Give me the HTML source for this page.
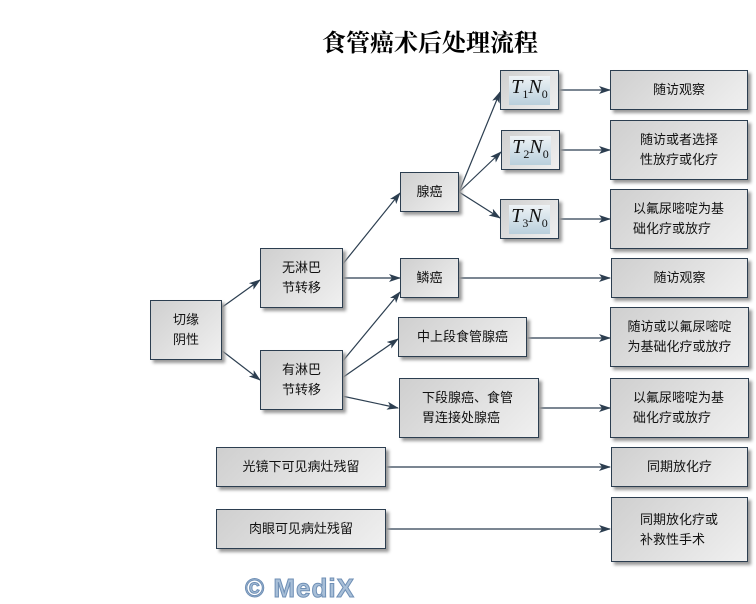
<!DOCTYPE html>
<html><head><meta charset="utf-8">
<style>
body{margin:0;width:756px;height:599px;background:#fff;position:relative;overflow:hidden;font-family:"Liberation Sans","Noto Sans CJK SC",sans-serif;}
.b{position:absolute;box-sizing:border-box;border:1px solid #2c3e50;background:linear-gradient(135deg,#cfcfcf,#f0f0f0);box-shadow:3px 3px 3px #999;display:flex;align-items:center;justify-content:center;text-align:center;font-size:13px;line-height:20px;color:#111;}
.t{font-family:"Liberation Serif",serif;font-style:italic;font-size:20px;background:linear-gradient(#eef3f6,#b9cfdc);padding:1px 2px;}
.t sub{font-size:12px;font-style:normal;}
h1{position:absolute;left:0;width:860px;top:23px;margin:0;text-align:center;font-family:"Liberation Serif","Noto Serif CJK SC",serif;font-size:24px;font-weight:bold;}
svg{position:absolute;left:0;top:0;}
.m{position:absolute;left:245px;top:573px;font:bold 26px "Liberation Sans",sans-serif;color:#a8bfd8;-webkit-text-stroke:1px #6f8fb5;letter-spacing:1px;}
</style></head><body>
<h1>食管癌术后处理流程</h1>
<svg width="756" height="599">
<defs><marker id="a" markerWidth="12" markerHeight="8" refX="11" refY="4" orient="auto" markerUnits="userSpaceOnUse"><path d="M0,0 L12,4 L0,8 L3,4z" fill="#2c3e50"/></marker></defs>
<g stroke="#2c3e50" stroke-width="1.2" fill="none" marker-end="url(#a)">
<line x1="221" y1="308" x2="260" y2="280"/>
<line x1="221" y1="350" x2="260" y2="380"/>
<line x1="342" y1="265" x2="400" y2="193"/>
<line x1="342" y1="278" x2="400" y2="278"/>
<line x1="342" y1="362" x2="400" y2="292"/>
<line x1="342" y1="378" x2="398" y2="339"/>
<line x1="342" y1="396" x2="398" y2="408"/>
<line x1="459" y1="192" x2="500" y2="92"/>
<line x1="459" y1="192" x2="501" y2="152"/>
<line x1="459" y1="192" x2="500" y2="218"/>
<line x1="559" y1="90" x2="610" y2="90"/>
<line x1="560" y1="150" x2="610" y2="150"/>
<line x1="559" y1="219" x2="610" y2="219"/>
<line x1="459" y1="278" x2="610" y2="278"/>
<line x1="527" y1="338" x2="610" y2="338"/>
<line x1="539" y1="408" x2="610" y2="408"/>
<line x1="386" y1="467" x2="610" y2="467"/>
<line x1="386" y1="529" x2="610" y2="529"/>
</g></svg>
<div class="b" style="left:150px;top:300px;width:72px;height:60px">切缘<br>阴性</div>
<div class="b" style="left:260px;top:248px;width:83px;height:60px">无淋巴<br>节转移</div>
<div class="b" style="left:260px;top:350px;width:83px;height:60px">有淋巴<br>节转移</div>
<div class="b" style="left:400px;top:172px;width:59px;height:40px">腺癌</div>
<div class="b" style="left:400px;top:258px;width:59px;height:40px">鳞癌</div>
<div class="b" style="left:398px;top:317px;width:129px;height:40px">中上段食管腺癌</div>
<div class="b" style="left:399px;top:378px;width:140px;height:60px;text-align:left;justify-content:flex-start;padding-left:22px">下段腺癌、食管<br>胃连接处腺癌</div>
<div class="b" style="left:500px;top:70px;width:59px;height:40px"><span class="t">T<sub>1</sub>N<sub>0</sub></span></div>
<div class="b" style="left:501px;top:130px;width:59px;height:40px"><span class="t">T<sub>2</sub>N<sub>0</sub></span></div>
<div class="b" style="left:500px;top:199px;width:59px;height:40px"><span class="t">T<sub>3</sub>N<sub>0</sub></span></div>
<div class="b" style="left:610px;top:70px;width:138px;height:40px">随访观察</div>
<div class="b" style="left:610px;top:120px;width:138px;height:60px">随访或者选择<br>性放疗或化疗</div>
<div class="b" style="left:610px;top:189px;width:138px;height:60px;justify-content:flex-start;text-align:left;padding-left:22px">以氟尿嘧啶为基<br>础化疗或放疗</div>
<div class="b" style="left:611px;top:258px;width:137px;height:40px">随访观察</div>
<div class="b" style="left:610px;top:307px;width:139px;height:60px">随访或以氟尿嘧啶<br>为基础化疗或放疗</div>
<div class="b" style="left:610px;top:378px;width:139px;height:60px;justify-content:flex-start;text-align:left;padding-left:22px">以氟尿嘧啶为基<br>础化疗或放疗</div>
<div class="b" style="left:216px;top:447px;width:170px;height:40px">光镜下可见病灶残留</div>
<div class="b" style="left:216px;top:509px;width:170px;height:40px">肉眼可见病灶残留</div>
<div class="b" style="left:611px;top:447px;width:137px;height:40px">同期放化疗</div>
<div class="b" style="left:611px;top:497px;width:137px;height:65px;justify-content:flex-start;text-align:left;padding-left:28px">同期放化疗或<br>补救性手术</div>
<div class="m">© MediX</div>
</body></html>
